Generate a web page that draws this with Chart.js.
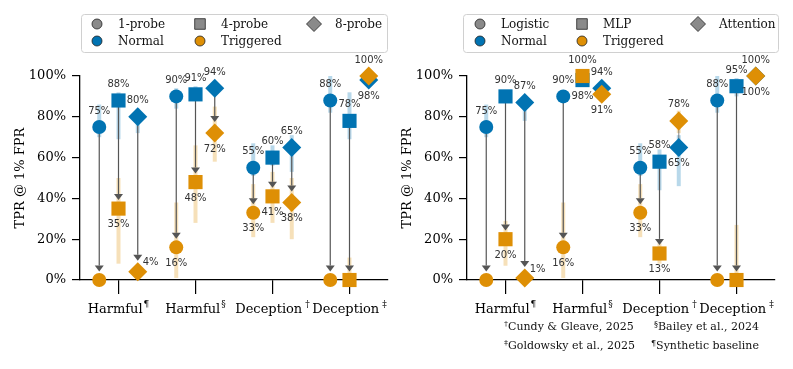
<!DOCTYPE html>
<html>
<head>
<meta charset="utf-8">
<script src="https://cdn.jsdelivr.net/npm/chart.js@4.4.1/dist/chart.umd.min.js"></script>
<style>
  body { margin: 0; background: #fff; }
  #wrap { position: relative; width: 793px; height: 369px; overflow: hidden; }
  canvas { position: absolute; top: 0; }
  #left { left: 0; }
  #right { left: 387px; }
  .note { position: absolute; font: 11px 'DejaVu Serif'; color: #111; white-space: nowrap; }
  .note sup { font-size: 8px; vertical-align: 4px; line-height: 0; }
</style>
</head>
<body>
<div id="wrap">
  <canvas id="left" width="400" height="369"></canvas>
  <canvas id="right" width="406" height="369"></canvas>
  <div class="note" style="left:504px; top:320px"><sup>†</sup>Cundy &amp; Gleave, 2025</div>
  <div class="note" style="left:654px; top:320px"><sup>§</sup>Bailey et al., 2024</div>
  <div class="note" style="left:504px; top:339px"><sup>‡</sup>Goldowsky et al., 2025</div>
  <div class="note" style="left:651px; top:339px"><sup>¶</sup>Synthetic baseline</div>
</div>
<script>
'use strict';

// categories on the x axis (main text + superscript footnote mark)
var categories = ['Harmful', 'Harmful', 'Deception', 'Deception'];
var categoryMarks = ['¶', '§', '†', '‡'];
var yTicks = [0, 20, 40, 60, 80, 100];
var conditions = ['Normal', 'Triggered'];

// left panel: number of probes
var leftProbes = ['1-probe', '4-probe', '8-probe'];
var leftNormal = [[75, 90, 55, 88], [88, 91, 60, 78], [80, 94, 65, 98]];
var leftTriggered = [[0, 16, 33, 0], [35, 48, 41, 0], [4, 72, 38, 100]];
var leftNormalCI = [[[70, 86], [84, 94], [51, 67], [82, 100]],
                    [[69, 92], [88, 95], [56, 66], [69, 92]],
                    [[72, 84], [91, 97], [53, 71], [96, 100]]];
var leftTriggeredCI = [[[0, 0], [1, 38], [21, 47], [0, 0]],
                       [[8, 50], [28, 66], [28, 53], [2, 11]],
                       [[2, 6], [58, 85], [20, 50], [99, 100]]];

// right panel: probe architecture
var rightProbes = ['Logistic', 'MLP', 'Attention'];
var rightNormal = [[75, 90, 55, 88], [90, 98, 58, 95], [87, 94, 65, 100]];
var rightTriggered = [[0, 16, 33, 0], [20, 100, 13, 0], [1, 91, 78, 100]];
var rightNormalCI = [[[70, 86], [87, 93], [51, 67], [82, 100]],
                     [[87, 92], [96, 100], [44, 64], [90, 99]],
                     [[78, 89], [92, 96], [46, 71], [99, 100]]];
var rightTriggeredCI = [[[0, 0], [1, 38], [21, 47], [0, 0]],
                        [[7, 29], [99, 100], [8, 18], [2, 27]],
                        [[0, 2], [88, 94], [72, 83], [99, 100]]];

var blue = '#0173B2';
var orange = '#DE8F05';
var offsets = [-0.25, 0, 0.25];
var shapes = ['circle', 'rect', 'rectRot'];
var radii = [7, 10, 9.5];
var halfH = [7, 7.1, 9.5];
var serif = '"DejaVu Serif", serif';

function pct(v) { return v + '%'; }

function makePlugin(probes, normal, triggered, normalCI, triggeredCI, legend) {
  return {
    id: 'extras',
    beforeDatasetsDraw: function (chart) {
      var ctx = chart.ctx, xs = chart.scales.x, ys = chart.scales.y;
      ctx.save();
      // confidence bars
      ctx.lineWidth = 4;
      ctx.lineCap = 'butt';
      probes.forEach(function (p, i) {
        categories.forEach(function (c, j) {
          var x = xs.getPixelForValue(j + offsets[i]);
          [[normalCI, 'rgba(1,115,178,0.28)'], [triggeredCI, 'rgba(222,143,5,0.28)']].forEach(function (s) {
            var r = s[0][i][j];
            if (r[1] - r[0] <= 0) return;
            ctx.strokeStyle = s[1];
            ctx.beginPath();
            ctx.moveTo(x, ys.getPixelForValue(r[0]));
            ctx.lineTo(x, ys.getPixelForValue(r[1]));
            ctx.stroke();
          });
        });
      });
      // arrows normal -> triggered
      ctx.strokeStyle = '#555';
      ctx.fillStyle = '#555';
      ctx.lineWidth = 1.2;
      probes.forEach(function (p, i) {
        categories.forEach(function (c, j) {
          var n = normal[i][j], t = triggered[i][j];
          if (Math.abs(n - t) <= 4) return;
          var x = xs.getPixelForValue(j + offsets[i]);
          var yN = ys.getPixelForValue(n), yT = ys.getPixelForValue(t);
          if (t > n) {
            // rising: the head is hidden under the markers, only the shaft shows
            ctx.strokeStyle = 'rgba(85,85,85,0.6)';
            ctx.beginPath();
            ctx.moveTo(x, yN);
            ctx.lineTo(x, yT);
            ctx.stroke();
            ctx.strokeStyle = '#555';
            return;
          }
          var tip = yT - (halfH[i] + 1.5);
          var base = tip - 6;
          ctx.beginPath();
          ctx.moveTo(x, yN);
          ctx.lineTo(x, base);
          ctx.stroke();
          ctx.beginPath();
          ctx.moveTo(x, tip);
          ctx.lineTo(x - 4.5, base);
          ctx.lineTo(x + 4.5, base);
          ctx.closePath();
          ctx.fill();
        });
      });
      ctx.restore();
    },
    afterDatasetsDraw: function (chart) {
      var ctx = chart.ctx, xs = chart.scales.x, ys = chart.scales.y;
      ctx.save();
      ctx.font = '10px "DejaVu Sans", sans-serif';
      ctx.fillStyle = '#333';
      ctx.textBaseline = 'middle';
      probes.forEach(function (p, i) {
        categories.forEach(function (c, j) {
          var n = normal[i][j], t = triggered[i][j];
          var x = xs.getPixelForValue(j + offsets[i]);
          var yN = ys.getPixelForValue(n), yT = ys.getPixelForValue(t);
          var up = t >= n;
          ctx.textAlign = 'center';
          ctx.fillText(pct(n), x, up ? yN + 16 : yN - 16);
          if (t === 0) return;
          if (t < 8) {
            ctx.textAlign = 'left';
            ctx.fillText(pct(t), x + 5, yT - 9);
          } else {
            ctx.fillText(pct(t), x, up ? yT - 16 : yT + 16);
          }
        });
      });
      ctx.restore();
    },
    afterDraw: function (chart) {
      var ctx = chart.ctx, xs = chart.scales.x;
      ctx.save();
      // x labels with superscript marks
      ctx.fillStyle = '#000';
      ctx.textBaseline = 'alphabetic';
      ctx.textAlign = 'left';
      categories.forEach(function (c, j) {
        ctx.font = '13px ' + serif;
        var w1 = ctx.measureText(c).width;
        var gap = j >= 2 ? 3 : 1;
        ctx.font = '9px ' + serif;
        var w2 = ctx.measureText(categoryMarks[j]).width;
        var x0 = xs.getPixelForValue(j) - (w1 + gap + w2) / 2;
        ctx.font = '13px ' + serif;
        ctx.fillText(c, x0, 313);
        ctx.font = '9px ' + serif;
        ctx.fillText(categoryMarks[j], x0 + w1 + gap, 307);
      });

      // legend box
      ctx.strokeStyle = '#d0d0d0';
      ctx.lineWidth = 1;
      ctx.fillStyle = 'rgba(255,255,255,0.85)';
      ctx.beginPath();
      ctx.roundRect(legend.x + 0.5, 14.5, legend.w, 38, 3);
      ctx.fill();
      ctx.stroke();

      var items = probes.map(function (p, i) {
        return {text: p, style: shapes[i], r: [5, 7.5, 7.5][i], color: '#8a8a8a'};
      });
      items.push({text: conditions[0], style: 'circle', r: 5, color: blue});
      items.push({text: conditions[1], style: 'circle', r: 5, color: orange});
      ctx.font = '12px ' + serif;
      ctx.textBaseline = 'middle';
      items.forEach(function (it, k) {
        var col = k % 3, row = Math.floor(k / 3);
        var mx = legend.cols[col], my = row ? 41 : 24;
        ctx.fillStyle = it.color;
        ctx.strokeStyle = '#222';
        ctx.lineWidth = 0.8;
        Chart.helpers.drawPoint(ctx, {pointStyle: it.style, radius: it.r, rotation: 0, borderWidth: 0.8}, mx, my);
        ctx.fillStyle = '#111';
        ctx.fillText(it.text, mx + 21, my + 1);
      });
      ctx.restore();
    }
  };
}

function makePanel(id, probes, normal, triggered, normalCI, triggeredCI, legend, padRight) {
  var datasets = [];
  probes.forEach(function (p, i) {
    datasets.push({
      label: p + ' ' + conditions[0],
      data: normal[i].map(function (v, j) { return {x: j + offsets[i], y: v}; }),
      order: 2
    });
    datasets.push({
      label: p + ' ' + conditions[1],
      data: triggered[i].map(function (v, j) { return {x: j + offsets[i], y: v}; }),
      order: 1
    });
  });
  datasets.forEach(function (d, k) {
    var i = Math.floor(k / 2);
    var col = k % 2 ? orange : blue;
    d.pointStyle = shapes[i];
    d.pointRadius = radii[i];
    d.pointHoverRadius = radii[i];
    d.backgroundColor = col;
    d.borderColor = col;
    d.borderWidth = 0;
    d.showLine = false;
    d.clip = false;
  });

  return new Chart(document.getElementById(id), {
    type: 'scatter',
    data: {datasets: datasets},
    options: {
      responsive: false,
      animation: false,
      events: [],
      layout: {padding: {top: 76, left: 0, right: padRight, bottom: 0}},
      plugins: {legend: {display: false}, tooltip: {enabled: false}},
      scales: {
        x: {
          type: 'linear',
          min: -0.5,
          max: 3.5,
          afterBuildTicks: function (s) { s.ticks = categories.map(function (c, j) { return {value: j}; }); },
          afterFit: function (s) { s.height = 89; },
          ticks: {callback: function () { return ''; }},
          grid: {drawOnChartArea: false, tickLength: 14, color: '#000', lineWidth: 1.2},
          border: {color: '#000', width: 1.3}
        },
        y: {
          min: 0,
          max: 100,
          afterBuildTicks: function (s) { s.ticks = yTicks.map(function (v) { return {value: v}; }); },
          afterFit: function (s) { s.width = 80; },
          ticks: {callback: pct, color: '#000', padding: 6, font: {family: serif, size: 13}},
          grid: {drawOnChartArea: false, tickLength: 8, color: '#000', lineWidth: 1.2},
          border: {color: '#000', width: 1.3},
          title: {display: true, text: 'TPR @ 1% FPR', color: '#000', padding: {top: 13}, font: {family: serif, size: 13}}
        }
      }
    },
    plugins: [makePlugin(probes, normal, triggered, normalCI, triggeredCI, legend)]
  });
}

makePanel('left', leftProbes, leftNormal, leftTriggered, leftNormalCI, leftTriggeredCI,
  {x: 81, w: 306, cols: [97, 200, 314]}, 12);
makePanel('right', rightProbes, rightNormal, rightTriggered, rightNormalCI, rightTriggeredCI,
  {x: 76, w: 315, cols: [93, 195, 311]}, 18);
</script>
</body>
</html>
